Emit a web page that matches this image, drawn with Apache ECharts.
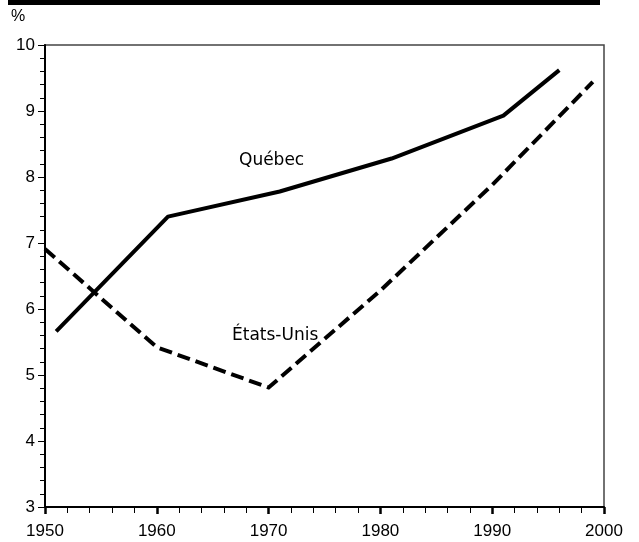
<!DOCTYPE html>
<html>
<head>
<meta charset="utf-8">
<script src="https://cdn.jsdelivr.net/npm/echarts@6/dist/echarts.min.js"></script>
<style>html,body{margin:0;padding:0;background:#fff}#c{width:639px;height:542px}</style>
</head>
<body>
<div id="c"></div>
<script>
const quebecYears = [1951, 1961, 1971, 1981, 1991, 1996];
const quebecValues = [5.66, 7.40, 7.78, 8.28, 8.93, 9.62];
const usYears = [1950, 1960, 1970, 1980, 1990, 1999];
const usValues = [6.91, 5.42, 4.81, 6.28, 7.88, 9.44];
const seriesNames = ['Québec', 'États-Unis'];
const yUnit = '%';

const pair = (xs, ys) => xs.map((x, i) => [x, ys[i]]);
const chart = echarts.init(document.getElementById('c'), null, {renderer: 'canvas'});
const font = 'Liberation Sans';
chart.setOption({
  animation: false,
  backgroundColor: '#fff',
  grid: {left: 45, right: 35, top: 45, bottom: 35, show: true, borderColor: '#444', borderWidth: 1.5, backgroundColor: 'transparent'},
  xAxis: {
    type: 'value', min: 1950, max: 2000, interval: 10,
    axisLine: {lineStyle: {color: '#000', width: 2}},
    axisTick: {length: 7, lineStyle: {color: '#000', width: 2.5}},
    minorTick: {show: true, splitNumber: 5, length: 6, lineStyle: {color: '#000', width: 1}},
    splitLine: {show: false},
    axisLabel: {color: '#000', fontFamily: font, fontSize: 17, margin: 16, formatter: v => String(v)}
  },
  yAxis: {
    type: 'value', min: 3, max: 10, interval: 1,
    axisLine: {lineStyle: {color: '#000', width: 2}},
    axisTick: {length: 7, lineStyle: {color: '#000', width: 1}},
    minorTick: {show: true, splitNumber: 5, length: 5, lineStyle: {color: '#000', width: 1}},
    splitLine: {show: false},
    axisLabel: {color: '#000', fontFamily: font, fontSize: 17, margin: 10}
  },
  series: [
    {name: seriesNames[0], type: 'line', data: pair(quebecYears, quebecValues), symbol: 'none',
     lineStyle: {color: '#000', width: 4, cap: 'butt', join: 'round'}},
    {name: seriesNames[1], type: 'line', data: pair(usYears, usValues), symbol: 'none',
     lineStyle: {color: '#000', width: 4, type: [13, 6], cap: 'butt', join: 'miter'}}
  ],
  graphic: [
    {type: 'rect', left: 8, top: 0, shape: {width: 592, height: 5}, style: {fill: '#000'}},
    {type: 'text', left: 11, top: 9, style: {text: yUnit, font: '16px ' + font, fill: '#000'}},
    {type: 'text', left: 239, top: 152, style: {text: seriesNames[0], font: '17px DejaVu Sans', fill: '#000'}},
    {type: 'text', left: 232, top: 327, style: {text: seriesNames[1], font: '17px DejaVu Sans', fill: '#000'}}
  ]
});
</script>
</body>
</html>
